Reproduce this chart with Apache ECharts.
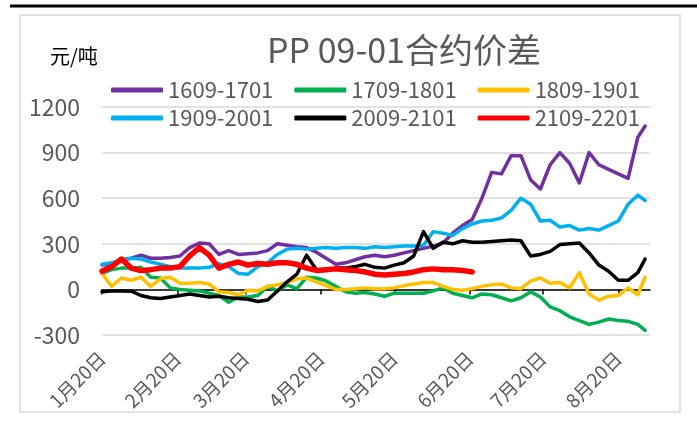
<!DOCTYPE html>
<html>
<head>
<meta charset="utf-8">
<script src="https://cdn.jsdelivr.net/npm/echarts@6/dist/echarts.min.js"></script>
<style>
  html, body { margin: 0; padding: 0; background: #fff; }
  #chart { width: 697px; height: 421px; }
</style>
</head>
<body>
<div id="chart"></div>
<script>
// sample dates, roughly every 4 days
var dates = ['2021-01-20','2021-01-24','2021-01-28','2021-02-01','2021-02-05','2021-02-09','2021-02-13','2021-02-17',
  '2021-02-21','2021-02-25','2021-03-01','2021-03-05','2021-03-09','2021-03-13','2021-03-17','2021-03-21',
  '2021-03-25','2021-03-29','2021-04-02','2021-04-06','2021-04-10','2021-04-14','2021-04-18','2021-04-22',
  '2021-04-26','2021-04-30','2021-05-04','2021-05-08','2021-05-12','2021-05-16','2021-05-20','2021-05-24',
  '2021-05-28','2021-06-01','2021-06-05','2021-06-09','2021-06-13','2021-06-17','2021-06-21','2021-06-25',
  '2021-06-29','2021-07-03','2021-07-07','2021-07-11','2021-07-15','2021-07-19','2021-07-23','2021-07-27',
  '2021-07-31','2021-08-04','2021-08-08','2021-08-12','2021-08-16','2021-08-20','2021-08-24','2021-08-28','2021-08-31'];

var tickDates = ['2021-01-20','2021-02-20','2021-03-20','2021-04-20','2021-05-20','2021-06-20','2021-07-20','2021-08-20'];
var tickLabels = ['1月20日','2月20日','3月20日','4月20日','5月20日','6月20日','7月20日','8月20日'];

var names = ['1609-1701','1709-1801','1809-1901','1909-2001','2009-2101','2109-2201'];
var colors = ['#7030A0','#00B050','#FFC000','#00B0F0','#000000','#FF0000'];

var s1609 = [160,170,195,205,225,205,205,210,220,275,305,300,230,255,230,235,240,255,300,290,280,275,245,205,
  165,175,195,215,225,215,225,240,255,270,285,305,370,420,460,600,770,760,880,880,720,660,820,900,830,700,
  900,820,790,760,730,1000,1075];
var s1709 = [105,130,140,140,145,80,75,10,0,-5,-10,-25,-40,-85,-50,-50,-40,20,-10,30,5,80,75,55,
  20,-15,-25,-20,-30,-45,-25,-25,-25,-25,-10,10,-25,-40,-55,-30,-35,-55,-75,-55,-15,-50,-115,-140,-180,-205,
  -230,-215,-195,-205,-210,-230,-270];
var s1809 = [105,20,75,60,80,20,70,80,40,40,45,35,-15,-20,-35,-5,-10,20,30,45,70,75,50,25,
  0,0,5,10,5,5,10,25,35,45,45,20,0,-5,5,20,30,35,10,5,55,75,40,45,10,110,
  -30,-70,-45,-40,10,-35,80];
var s1909 = [165,175,190,205,200,180,165,150,140,140,140,145,170,150,105,100,150,175,230,265,270,265,270,275,
  270,275,275,270,280,275,280,285,285,290,380,370,355,400,430,450,455,470,520,600,560,450,455,410,420,390,
  400,390,420,450,560,620,585];
var s2009 = [-15,-10,-10,-12,-40,-55,-60,-50,-40,-30,-40,-50,-45,-55,-60,-65,-80,-70,-10,50,100,225,130,130,
  140,140,150,165,145,140,160,175,220,380,270,310,300,320,310,310,315,320,325,320,220,230,250,295,300,305,
  240,160,120,60,60,110,200];
var s2109 = [120,150,200,140,124,130,140,140,150,220,275,225,140,165,180,160,170,165,175,175,165,140,125,130,
  135,130,125,115,100,95,100,105,115,130,135,130,130,125,115];

var allSeries = [s1609, s1709, s1809, s1909, s2009, s2109];

// x axis is days counted from 1月20日
var day0 = Date.UTC(2021, 0, 20);
function dayOf(s) {
  var p = s.split('-');
  return Math.round((Date.UTC(+p[0], +p[1] - 1, +p[2]) - day0) / 86400000);
}

function toPairs(vals) {
  var out = [];
  for (var i = 0; i < vals.length; i++) {
    out.push([dayOf(dates[i]), vals[i]]);
  }
  return out;
}

var tickDays = tickDates.map(dayOf);
var fontCjk = '"Noto Sans CJK SC", "Noto Sans", sans-serif';

var chart = echarts.init(document.getElementById('chart'), null, { renderer: 'canvas' });

var series = [];
for (var i = 0; i < names.length; i++) {
  series.push({
    name: names[i],
    type: 'line',
    data: toPairs(allSeries[i]),
    showSymbol: false,
    symbol: 'none',
    animation: false,
    lineStyle: { color: colors[i], width: i == 5 ? 5.5 : 3.5, cap: 'round', join: 'round' },
    itemStyle: { color: colors[i] }
  });
}

var legendBase = {
  left: 106,
  itemWidth: 52,
  itemHeight: 5,
  itemGap: 21,
  icon: 'roundRect',
  textStyle: { color: '#595959', fontSize: 22, fontFamily: fontCjk },
  selectedMode: false
};

var option = {
  backgroundColor: '#fff',
  animation: false,
  title: {
    text: 'PP 09-01合约价差',
    left: 262,
    top: 28,
    textStyle: { color: '#595959', fontSize: 34, fontWeight: 'normal', fontFamily: fontCjk }
  },
  legend: [
    Object.assign({}, legendBase, { top: 74, data: names.slice(0, 3) }),
    Object.assign({}, legendBase, { top: 102, data: names.slice(3) })
  ],
  grid: { left: 102, right: 47, top: 107, bottom: 86, containLabel: false, outerBoundsMode: 'none' },
  xAxis: {
    type: 'value',
    min: 0,
    max: 225,
    splitLine: { show: false },
    axisLine: { onZero: true, lineStyle: { color: '#000', width: 1.5 } },
    axisTick: { show: true, customValues: tickDays, length: 5, lineStyle: { color: '#000', width: 1.5 } },
    axisLabel: {
      customValues: tickDays,
      rotate: 45,
      margin: 20,
      color: '#595959',
      fontSize: 19,
      fontFamily: fontCjk,
      formatter: function (v) {
        var idx = tickDays.indexOf(Math.round(v));
        return idx >= 0 ? tickLabels[idx] : '';
      }
    }
  },
  yAxis: {
    type: 'value',
    min: -300,
    max: 1200,
    interval: 300,
    axisLine: { show: false },
    axisTick: { show: false },
    splitLine: { lineStyle: { color: '#D9D9D9', width: 1.5 } },
    axisLabel: {
      color: '#595959', fontSize: 23, fontFamily: fontCjk, margin: 22,
      formatter: function (v) { return String(v); }
    }
  },
  graphic: [
    { type: 'line', shape: { x1: 10, y1: 6, x2: 697, y2: 6 }, style: { stroke: '#000', lineWidth: 3 }, silent: true },
    { type: 'rect', shape: { x: 20, y: 15, width: 660, height: 397 }, style: { fill: 'none', stroke: '#D9D9D9', lineWidth: 1.5 }, silent: true, z: -10 },
    { type: 'text', left: 50, top: 46, style: { text: '元/吨', fill: '#000', font: '20px ' + fontCjk }, silent: true }
  ],
  series: series
};

chart.setOption(option);
</script>
</body>
</html>
